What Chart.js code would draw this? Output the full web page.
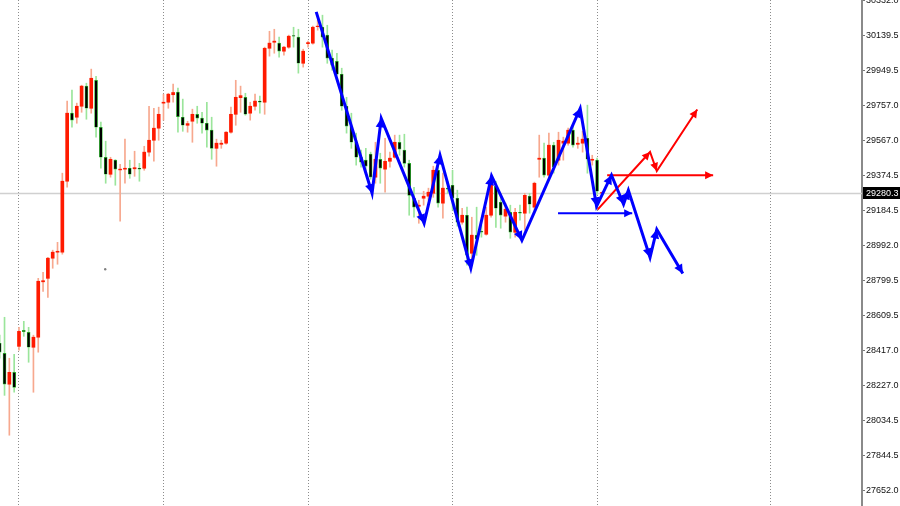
<!DOCTYPE html>
<html>
<head>
<meta charset="utf-8">
<script src="https://cdn.jsdelivr.net/npm/chart.js@4.4.1/dist/chart.umd.min.js"></script>
<style>
  html, body { margin: 0; padding: 0; background: #ffffff; }
  #wrap { width: 900px; height: 506px; }
</style>
</head>
<body>
<div id="wrap"><canvas id="chart" width="900" height="506"></canvas></div>
<script>
// ── Data (bar index on x, price on y) ────────────────────────────────────────

const OPEN = [
  28456, 28401, 28232, 28297, 28439, 28527, 28516, 28434, 28489, 28792,
  28811, 28921, 28954, 28954, 29342, 29714, 29692, 29752, 29862, 29741,
  29894, 29637, 29473, 29380, 29457, 29404, 29408, 29413, 29410, 29413,
  29413, 29501, 29566, 29632, 29769, 29774, 29815, 29829, 29692, 29648,
  29670, 29708, 29687, 29659, 29621, 29522, 29544, 29550, 29610, 29708,
  29799, 29801, 29714, 29752, 29780, 29774, 30069, 30102, 30097, 30053,
  30075, 30138, 30130, 29987, 30094, 30097, 30187, 30184, 30141, 30015,
  29998, 29927, 29752, 29643, 29555, 29473, 29457, 29490, 29364, 29462,
  29408, 29451, 29473, 29555, 29512, 29440, 29249, 29205, 29249, 29260,
  29276, 29402, 29222, 29304, 29320, 29249, 29118, 29156, 28948, 29047,
  29068, 29052, 29156, 29315, 29227, 29151, 29172, 29063, 29172, 29167,
  29260, 29200, 29462, 29468, 29375, 29539, 29457, 29550, 29550, 29621,
  29544, 29550, 29577, 29457, 29457, 29277
];
const HIGH = [
  28500, 28598, 28374, 28396, 28543, 28576, 28543, 28500, 28811, 28844,
  28926, 28965, 29008, 29386, 29780, 29840, 29769, 29867, 29878, 29955,
  29916, 29665, 29561, 29473, 29460, 29435, 29572, 29457, 29506, 29440,
  29533, 29752, 29741, 29747, 29818, 29823, 29873, 29851, 29791, 29670,
  29736, 29752, 29719, 29774, 29692, 29572, 29566, 29613, 29747, 29894,
  29862, 29823, 29774, 29818, 29807, 30075, 30162, 30173, 30130, 30080,
  30141, 30184, 30173, 30064, 30108, 30190, 30223, 30250, 30195, 30059,
  30042, 29960, 29801, 29714, 29605, 29512, 29522, 29501, 29555, 29495,
  29577, 29501, 29594, 29594, 29599, 29457, 29309, 29238, 29287, 29304,
  29424, 29457, 29386, 29342, 29402, 29293, 29194, 29200, 29145, 29200,
  29101, 29200, 29375, 29342, 29276, 29222, 29211, 29194, 29211, 29276,
  29276, 29337, 29594, 29550, 29605, 29555, 29610, 29583, 29632, 29648,
  29583, 29615, 29758, 29484, 29468, 29283
];
const LOW = [
  28374, 28171, 27953, 28188, 28418, 28494, 28352, 28188, 28407, 28740,
  28707, 28866, 28888, 28943, 29309, 29637, 29659, 29719, 29681, 29714,
  29583, 29413, 29331, 29364, 29320, 29123, 29331, 29358, 29369, 29342,
  29402, 29479, 29451, 29566, 29676, 29741, 29774, 29610, 29615, 29610,
  29555, 29659, 29605, 29528, 29462, 29424, 29522, 29544, 29605, 29648,
  29719, 29703, 29676, 29730, 29714, 29708, 30026, 30042, 30020, 30031,
  30069, 30075, 29933, 29966, 30075, 30091, 30168, 30075, 29987, 29949,
  29922, 29730, 29605, 29522, 29430, 29419, 29386, 29353, 29331, 29331,
  29282, 29419, 29468, 29484, 29419, 29156, 29145, 29112, 29211, 29238,
  29254, 29200, 29140, 29276, 29183, 29096, 29107, 28883, 28883, 28937,
  29036, 29047, 29145, 29090, 29085, 29118, 29030, 29036, 29129, 29074,
  29167, 29183, 29364, 29364, 29364, 29386, 29430, 29457, 29539, 29528,
  29522, 29501, 29386, 29430, 29270, 29275
];
const CLOSE = [
  28407, 28232, 28297, 28215, 28521, 28519, 28434, 28489, 28795, 28798,
  28921, 28954, 28959, 29342, 29714, 29676, 29752, 29862, 29741, 29905,
  29637, 29473, 29380, 29462, 29408, 29408, 29413, 29380, 29416, 29408,
  29501, 29566, 29632, 29708, 29774, 29818, 29827, 29695, 29648, 29657,
  29708, 29687, 29659, 29621, 29522, 29550, 29550, 29610, 29708, 29801,
  29810, 29708, 29752, 29780, 29774, 30069, 30097, 30108, 30053, 30075,
  30135, 30135, 29987, 30053, 30100, 30184, 30190, 30130, 30015, 29977,
  29927, 29752, 29643, 29555, 29473, 29446, 29424, 29364, 29462, 29413,
  29451, 29468, 29555, 29517, 29440, 29265, 29200, 29211, 29260, 29282,
  29402, 29222, 29304, 29298, 29249, 29118, 29156, 28937, 29047, 29025,
  29063, 29156, 29320, 29194, 29156, 29189, 29063, 29172, 29167, 29265,
  29216, 29331, 29468, 29375, 29539, 29419, 29566, 29561, 29621, 29539,
  29550, 29572, 29462, 29462, 29287, 29280.3
];

const LAST_PRICE = 29280.3;
const Y_TICKS = [30332.0, 30139.5, 29949.5, 29757.0, 29567.0, 29374.5, 29184.5,
  28992.0, 28799.5, 28609.5, 28417.0, 28227.0, 28034.5, 27844.5, 27652.0];
const X_GRID = [4, 34, 64, 94, 124, 160];

// hand-drawn arrows on the chart
const BLUE_PATH_X = [65.7, 77.3, 79.2, 88.1, 91.4, 97.8, 102.1, 108.4, 120.5, 123.9, 127.0, 129.5, 130.5, 135.0, 136.4, 141.8];
const BLUE_PATH_Y = [30268, 29276, 29686, 29112, 29484, 28866, 29371, 29019, 29740, 29205, 29375, 29216, 29293, 28925, 29078, 28837];
const BLUE_LEVEL_X = [115.9, 131.3];
const BLUE_LEVEL_Y = [29167, 29167];
const RED_PATH_X = [124.1, 135.0, 136.4, 144.8];
const RED_PATH_Y = [29187, 29502, 29398, 29734];
const RED_LEVEL_X = [126.1, 148.1];
const RED_LEVEL_Y = [29375, 29375];
const DOT_X = [21.9];
const DOT_Y = [28861];

// ── Build datasets ───────────────────────────────────────────────────────────

const wickUp = [], wickDown = [], bodyUp = [], bodyDown = [];
OPEN.forEach((o, i) => {
  const c = CLOSE[i];
  const wick = { x: i, y: [LOW[i], HIGH[i]] };
  const body = { x: i, y: [o, c] };
  if (c >= o) { wickUp.push(wick); bodyUp.push(body); }
  else { wickDown.push(wick); bodyDown.push(body); }
});

const pts = (xs, ys) => xs.map((x, i) => ({ x, y: ys[i] }));

function arrowLine(xs, ys, color, width) {
  return {
    type: 'line',
    data: pts(xs, ys),
    borderColor: color,
    backgroundColor: color,
    borderWidth: width,
    pointRadius: 0,
    tension: 0,
    fill: false,
    arrows: true,
    order: 0,
  };
}

// ── Plugins ──────────────────────────────────────────────────────────────────

const priceLine = {
  id: 'priceLine',
  beforeDatasetsDraw(chart) {
    const { ctx, chartArea, scales } = chart;
    const y = Math.round(scales.y.getPixelForValue(LAST_PRICE)) + 0.5;
    ctx.save();
    ctx.strokeStyle = '#d0d0d0';
    ctx.lineWidth = 1.5;
    ctx.beginPath();
    ctx.moveTo(chartArea.left, y);
    ctx.lineTo(chartArea.right, y);
    ctx.stroke();
    ctx.restore();
  },
};

const arrowHeads = {
  id: 'arrowHeads',
  afterDatasetsDraw(chart) {
    const ctx = chart.ctx;
    chart.data.datasets.forEach((ds, di) => {
      if (!ds.arrows) return;
      const pts = chart.getDatasetMeta(di).data;
      const len = ds.borderWidth > 2 ? 9 : 8;
      const half = ds.borderWidth > 2 ? 4.5 : 4;
      ctx.save();
      ctx.fillStyle = ds.borderColor;
      for (let i = 1; i < pts.length; i++) {
        const a = pts[i - 1], b = pts[i];
        const ang = Math.atan2(b.y - a.y, b.x - a.x);
        const bx = b.x - len * Math.cos(ang), by = b.y - len * Math.sin(ang);
        ctx.beginPath();
        ctx.moveTo(b.x, b.y);
        ctx.lineTo(bx + half * Math.sin(ang), by - half * Math.cos(ang));
        ctx.lineTo(bx - half * Math.sin(ang), by + half * Math.cos(ang));
        ctx.closePath();
        ctx.fill();
      }
      ctx.restore();
    });
  },
};

const priceTag = {
  id: 'priceTag',
  afterDraw(chart) {
    const { ctx, chartArea, scales } = chart;
    const y = Math.round(scales.y.getPixelForValue(LAST_PRICE));
    ctx.save();
    ctx.fillStyle = '#000000';
    ctx.fillRect(chartArea.right + 1, y - 6, 40, 12);
    ctx.fillStyle = '#ffffff';
    ctx.font = '9px "Liberation Sans", Arial, sans-serif';
    ctx.textBaseline = 'middle';
    ctx.fillText(LAST_PRICE.toFixed(1), chartArea.right + 4, y + 0.5);
    ctx.restore();
  },
};

// ── Chart ────────────────────────────────────────────────────────────────────

new Chart(document.getElementById('chart'), {
  type: 'bar',
  data: {
    datasets: [
      arrowLine(BLUE_PATH_X, BLUE_PATH_Y, '#0000ff', 3),
      arrowLine(BLUE_LEVEL_X, BLUE_LEVEL_Y, '#0000ff', 2),
      arrowLine(RED_PATH_X, RED_PATH_Y, '#ff0000', 2),
      arrowLine(RED_LEVEL_X, RED_LEVEL_Y, '#ff0000', 2),
      {
        type: 'scatter',
        data: pts(DOT_X, DOT_Y),
        pointRadius: 1.2,
        pointBackgroundColor: '#808080',
        pointBorderWidth: 0,
        order: 0,
      },
      {
        data: bodyUp,
        backgroundColor: '#ff1a00',
        barThickness: 3,
        grouped: false,
        order: 1,
      },
      {
        data: bodyDown,
        backgroundColor: '#000000',
        borderColor: '#30c030',
        borderWidth: 0.7,
        borderSkipped: false,
        barThickness: 3,
        grouped: false,
        order: 1,
      },
      {
        data: wickUp,
        backgroundColor: '#f7a88e',
        barThickness: 1,
        grouped: false,
        order: 2,
      },
      {
        data: wickDown,
        backgroundColor: '#9be59b',
        barThickness: 1,
        grouped: false,
        order: 2,
      },
    ],
  },
  options: {
    responsive: false,
    animation: false,
    devicePixelRatio: 1,
    layout: { padding: 0, autoPadding: false },
    plugins: {
      legend: { display: false },
      tooltip: { enabled: false },
    },
    scales: {
      x: {
        type: 'linear',
        min: 0.06,
        max: 179.0,
        offset: false,
        afterBuildTicks: (scale) => { scale.ticks = X_GRID.map((v) => ({ value: v })); },
        afterFit: (scale) => { scale.height = 0; scale.paddingLeft = 0; scale.paddingRight = 0; },
        ticks: { display: false },
        grid: { color: '#8c8c8c', lineWidth: 1, drawTicks: false, offset: false },
        border: { display: false, dash: [1, 2] },
      },
      y: {
        position: 'right',
        min: 27566,
        max: 30333,
        afterBuildTicks: (scale) => { scale.ticks = Y_TICKS.map((v) => ({ value: v })); },
        afterFit: (scale) => { scale.width = 38; scale.paddingTop = 0; scale.paddingBottom = 0; },
        ticks: {
          padding: 1,
          color: '#111111',
          font: { family: '"Liberation Sans", Arial, sans-serif', size: 9 },
          callback: (v) => Number(v).toFixed(1),
        },
        grid: { drawOnChartArea: false, drawTicks: true, tickLength: 3, color: '#777777' },
        border: { display: true, color: '#8a8a8a', width: 2 },
      },
    },
  },
  plugins: [priceLine, arrowHeads, priceTag],
});
</script>
</body>
</html>
